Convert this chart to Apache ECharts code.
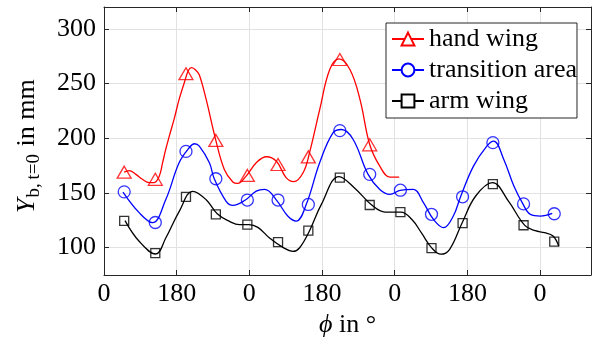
<!DOCTYPE html>
<html><head><meta charset="utf-8">
<script src="https://cdn.jsdelivr.net/npm/echarts@6/dist/echarts.min.js"></script>
<style>html,body{margin:0;padding:0;background:#fff}#c{width:595px;height:344px}</style>
</head><body><div id="c"></div>
<script>
// ---- data ----
const xTickValues = [0, 180, 360, 540, 720, 900, 1080];
const xTickLabels = ['0', '180', '0', '180', '0', '180', '0'];
const yTickValues = [100, 150, 200, 250, 300];

const sampleAngle = [50, 127, 203, 277, 355, 431, 506, 584, 658, 734, 811, 888, 963, 1039, 1115];
const handWing = [169, 162.5, 259, 198, 166, 176, 183, 272, 194];
const transitionArea = [151, 123, 188, 163, 143.5, 143.5, 139.5, 207, 167, 152.5, 130.5, 146.5, 196, 140, 131];
const armWing = [124.5, 95, 146.5, 130.5, 121, 105, 115.5, 164, 139, 132.5, 99.5, 122.5, 158, 120.5, 105.5];

const handFitAngle = [50, 62, 79, 95, 112, 124, 137, 145, 153, 161, 174, 186, 199, 209, 217, 228, 236, 253, 276, 298, 319, 331, 352, 377, 402, 427, 451, 470, 493, 509, 534, 559, 582, 609, 634, 658, 683, 708, 731];
const handFitValue = [169, 170.5, 167, 162.5, 159.5, 159.5, 165.5, 177.5, 190, 201, 218, 235.5, 251, 262, 264.5, 262, 258, 235.5, 199.5, 171.5, 160, 158.7, 165.4, 177.6, 183.1, 179, 164, 160.3, 168.5, 186.8, 226, 262.8, 272.5, 262.8, 235.4, 194.3, 174.5, 164.5, 164.5];

const transFitAngle = [47, 87, 120, 153, 186, 211, 224, 236, 261, 273, 302, 319, 350, 377, 398, 427, 455, 476, 501, 534, 567, 588, 617, 654, 683, 708, 733, 766, 791, 816, 841, 865, 883, 915, 948, 965, 990, 1015, 1037, 1056, 1081, 1110];
const transFitValue = [150.8, 132, 122.8, 144, 177.6, 191.3, 195, 192.8, 177.6, 163, 142.6, 138.6, 143.5, 151.7, 153.2, 143.5, 128.9, 124.3, 139.6, 177.6, 205, 208, 198.9, 167, 153.2, 148.7, 152.3, 153.2, 141.1, 125.8, 118.3, 128.9, 146.6, 174.5, 192.8, 197.4, 180.6, 156.3, 140.2, 130.4, 128.9, 131.3];

const armFitAngle = [52, 87, 128, 153, 186, 220, 253, 281, 311, 335, 359, 381, 410, 443, 468, 484, 509, 538, 582, 621, 663, 696, 735, 762, 787, 811, 834, 856, 887, 920, 962, 1002, 1042, 1068, 1091, 1112, 1126];
const armFitValue = [124.7, 105.8, 94.2, 108.8, 133, 151.5, 143.8, 130.7, 124, 121, 121, 118.5, 108.8, 100.3, 96.6, 99.7, 115.5, 139.3, 165, 154.4, 139, 132.5, 132.5, 126, 113, 100, 94, 98.5, 122.8, 147, 159.4, 142.3, 120.4, 115.5, 113.7, 110.6, 101.5];

// ---- chart ----
const FONT = '"Liberation Serif", "Times New Roman", serif';
const AX = '#262626';
const GRIDC = '#e2e2e2';
const X_MIN = 0, X_MAX = 1206, Y_MIN = 75, Y_MAX = 320;
const SUB = 'b,\u2009t=0';

function pairs(xs, ys) { return ys.map((v, i) => [xs[i], v]); }

const chart = echarts.init(document.getElementById('c'), null, { renderer: 'canvas' });

const ctx = document.createElement('canvas').getContext('2d');
function tw(font, t) { ctx.font = font; return ctx.measureText(t).width; }
const wY = tw('italic 26px "Liberation Serif"', 'Y');
const wSub = tw('19px "Liberation Serif"', SUB);

const baseAxisX = {
  type: 'value', min: X_MIN, max: X_MAX, interval: 180,
  axisLine: { show: true, onZero: false, lineStyle: { color: AX, width: 1 } },
  axisTick: { show: true, inside: true, length: 5, lineStyle: { color: AX } },
};
const baseAxisY = {
  type: 'value', min: Y_MIN, max: Y_MAX,
  axisLine: { show: true, onZero: false, lineStyle: { color: AX, width: 1 } },
  axisTick: { show: true, inside: true, length: 5, customValues: yTickValues, lineStyle: { color: AX } },
};

function lineSeries(name, xs, ys, color, symbol) {
  return {
    type: 'line', name: name, data: pairs(xs, ys), smooth: 0.4,
    showSymbol: false, symbol: symbol, symbolSize: 12,
    lineStyle: { color: color, width: 1.3 }, itemStyle: { color: color },
    silent: true, z: 2
  };
}
function markSeries(name, xs, ys, color, symbol, size) {
  return {
    type: 'scatter', name: name, data: pairs(xs, ys), symbol: symbol, symbolSize: size,
    itemStyle: { color: 'rgba(0,0,0,0)', borderColor: color, borderWidth: 1.3 },
    silent: true, z: 3
  };
}

chart.setOption({
  animation: false,
  backgroundColor: '#fff',
  grid: { left: 104, right: 4, top: 7, bottom: 69, containLabel: false },
  legend: {
    data: ['hand wing', 'transition area', 'arm wing'],
    orient: 'vertical', left: 386, top: 23,
    itemWidth: 32, itemHeight: 16, itemGap: 5,
    padding: [3, 0, 4, 5],
    borderColor: AX, borderWidth: 1, borderRadius: 0, backgroundColor: '#fff',
    selectedMode: false,
    textStyle: { fontSize: 26, fontFamily: FONT, color: '#000' }
  },
  xAxis: [
    Object.assign({}, baseAxisX, {
      position: 'bottom',
      axisLabel: {
        show: true, margin: 6, fontSize: 26, fontFamily: FONT, color: '#000',
        formatter: v => { const k = xTickValues.indexOf(v); return k >= 0 ? xTickLabels[k] : ''; }
      },
      splitLine: { show: true, lineStyle: { color: GRIDC, width: 1 } },
      name: '{i|ϕ} in °', nameLocation: 'middle', nameGap: 36,
      nameTextStyle: { fontSize: 26, fontFamily: FONT, color: '#000',
        rich: { i: { fontStyle: 'italic', fontSize: 26, fontFamily: FONT, color: '#000' } } }
    }),
    Object.assign({}, baseAxisX, {
      position: 'top', axisLabel: { show: false }, splitLine: { show: false }
    })
  ],
  yAxis: [
    Object.assign({}, baseAxisY, {
      position: 'left',
      axisLabel: { show: true, margin: 8, fontSize: 26, fontFamily: FONT, color: '#000', customValues: yTickValues },
      splitLine: { show: true, lineStyle: { color: GRIDC, width: 1 } }
    }),
    Object.assign({}, baseAxisY, {
      position: 'right', axisLabel: { show: false, customValues: yTickValues }, splitLine: { show: false }
    })
  ],
  graphic: [{
    type: 'group', x: 27, y: 213, rotation: Math.PI / 2, silent: true,
    children: [
      { type: 'text', x: 0, y: 0, style: { text: 'Y', fontSize: 26, fontStyle: 'italic', fontFamily: FONT, fill: '#000', verticalAlign: 'middle', align: 'left' } },
      { type: 'text', x: wY + 1, y: 7, style: { text: SUB, fontSize: 19, fontFamily: FONT, fill: '#000', verticalAlign: 'middle', align: 'left' } },
      { type: 'text', x: wY + 2 + wSub, y: 0, style: { text: ' in mm', fontSize: 26, fontFamily: FONT, fill: '#000', verticalAlign: 'middle', align: 'left' } }
    ]
  }],
  series: [
    lineSeries('hand wing', handFitAngle, handFitValue, '#ff0000', 'emptyTriangle'),
    lineSeries('transition area', transFitAngle, transFitValue, '#0000ff', 'emptyCircle'),
    lineSeries('arm wing', armFitAngle, armFitValue, '#000000', 'emptyRect'),
    markSeries('hand wing data', sampleAngle, handWing, '#ff0000', 'triangle', [14, 12]),
    markSeries('transition area data', sampleAngle, transitionArea, '#0000ff', 'circle', 12),
    markSeries('arm wing data', sampleAngle, armWing, '#000000', 'rect', 9)
  ]
});
</script>
</body></html>
